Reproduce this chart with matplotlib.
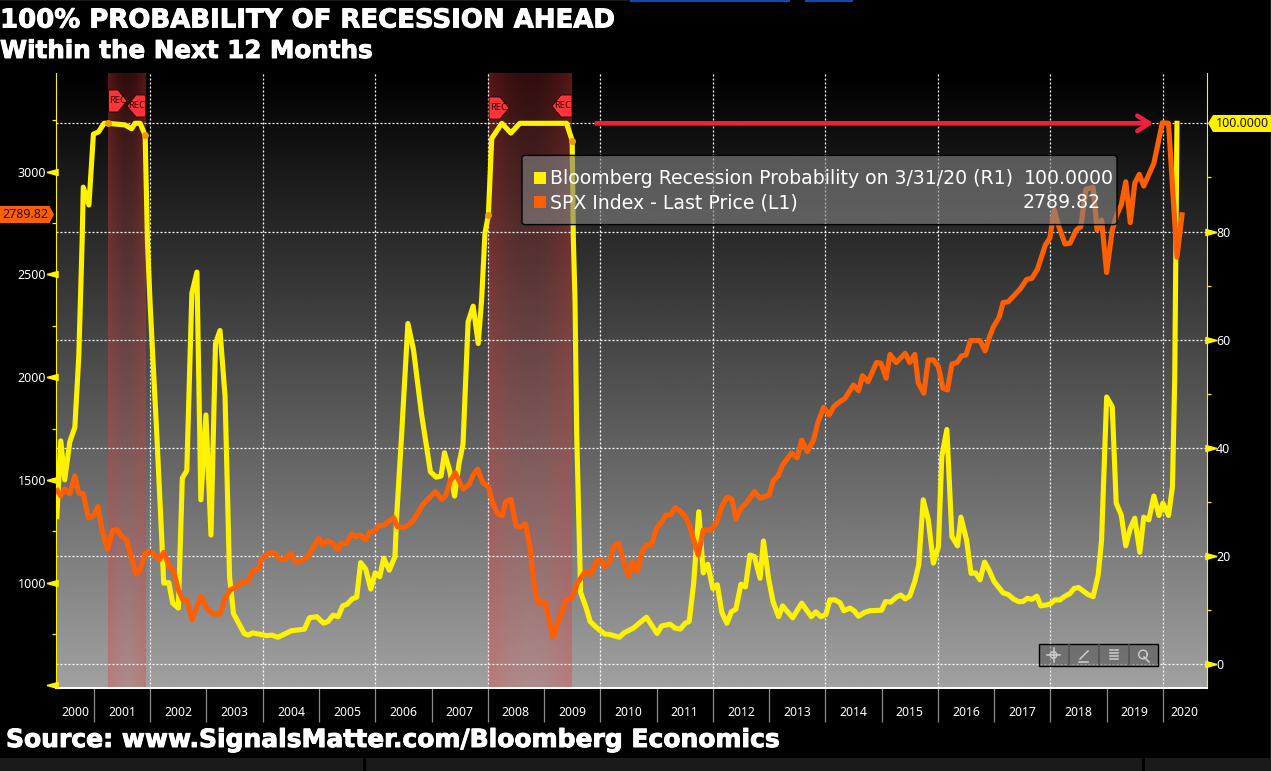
import numpy as np
import matplotlib
matplotlib.use('Agg')
import matplotlib.pyplot as plt
import matplotlib.patheffects as pe
from matplotlib.patches import Polygon, Rectangle, FancyBboxPatch
from matplotlib.lines import Line2D
from matplotlib.path import Path
from matplotlib.transforms import blended_transform_factory

W, H = 1271, 771

# Bloomberg recession probability (right axis)
prob_years = [2000.34, 2000.41, 2000.48, 2000.57, 2000.66, 2000.73, 2000.79, 2000.81, 2000.91, 2000.99,
              2001.08, 2001.18, 2001.25, 2001.55, 2001.67, 2001.73, 2001.82, 2001.91, 2001.95, 2002.00,
              2002.11, 2002.20, 2002.24, 2002.33, 2002.40, 2002.50, 2002.57, 2002.65, 2002.74, 2002.83,
              2002.90, 2002.99, 2003.08, 2003.16, 2003.24, 2003.33, 2003.41, 2003.48, 2003.67, 2003.74,
              2003.82, 2004.07, 2004.16, 2004.27, 2004.51, 2004.74, 2004.83, 2004.96, 2005.08, 2005.16,
              2005.25, 2005.34, 2005.42, 2005.50, 2005.59, 2005.67, 2005.74, 2005.83, 2005.92, 2006.00,
              2006.08, 2006.15, 2006.25, 2006.35, 2006.38, 2006.47, 2006.58, 2006.68, 2006.82, 2006.98,
              2007.08, 2007.17, 2007.23, 2007.32, 2007.41, 2007.49, 2007.56, 2007.65, 2007.74, 2007.83,
              2007.89, 2007.95, 2008.01, 2008.07, 2008.25, 2008.41, 2008.57, 2009.40, 2009.50, 2009.52,
              2009.55, 2009.58, 2009.65, 2009.75, 2009.82, 2009.91, 2009.99, 2010.08, 2010.17, 2010.34,
              2010.42, 2010.59, 2010.82, 2011.01, 2011.09, 2011.24, 2011.33, 2011.42, 2011.51, 2011.58,
              2011.66, 2011.75, 2011.83, 2011.91, 2012.00, 2012.08, 2012.16, 2012.25, 2012.33, 2012.41,
              2012.50, 2012.58, 2012.66, 2012.74, 2012.84, 2012.90, 2012.99, 2013.07, 2013.17, 2013.24,
              2013.42, 2013.58, 2013.75, 2013.83, 2013.92, 2014.01, 2014.08, 2014.17, 2014.26, 2014.33,
              2014.44, 2014.51, 2014.59, 2014.70, 2014.79, 2015.00, 2015.07, 2015.16, 2015.26, 2015.34,
              2015.42, 2015.50, 2015.59, 2015.66, 2015.74, 2015.83, 2015.92, 2016.01, 2016.07, 2016.16,
              2016.25, 2016.35, 2016.41, 2016.51, 2016.59, 2016.67, 2016.75, 2016.83, 2016.91, 2017.00,
              2017.16, 2017.25, 2017.34, 2017.43, 2017.51, 2017.59, 2017.67, 2017.76, 2017.83, 2017.99,
              2018.08, 2018.17, 2018.26, 2018.35, 2018.42, 2018.50, 2018.67, 2018.76, 2018.85, 2018.91,
              2019.00, 2019.10, 2019.17, 2019.26, 2019.34, 2019.42, 2019.50, 2019.59, 2019.66, 2019.75,
              2019.84, 2019.93, 2020.00, 2020.10, 2020.17, 2020.21, 2020.25]
prob_values = [27.3, 41.3, 34.1, 41.1, 43.8, 56.9, 78.4, 88.2, 84.9, 98.0,
               98.4, 100, 100, 99.7, 99.0, 100, 100, 97.8, 78.4, 66.1,
               43.9, 24.3, 15.0, 15.1, 11.3, 10.4, 34.4, 35.8, 68.6, 72.5,
               30.4, 46.1, 23.9, 59.3, 61.7, 49.5, 16.2, 9.4, 5.7, 5.4,
               5.8, 5.3, 5.4, 5.0, 6.2, 6.5, 8.6, 8.8, 7.6, 7.9,
               9.1, 8.8, 10.8, 11.1, 12.1, 12.4, 18.8, 17.6, 13.9, 16.9,
               16.2, 19.6, 17.4, 19.9, 27.3, 42.7, 63.0, 58.1, 46.4, 35.6,
               34.6, 34.8, 39.1, 35.9, 31.1, 37.2, 40.7, 63.3, 66.2, 59.3,
               67.3, 79.7, 83.0, 97.2, 100, 98.2, 100, 100, 96.8, 79.0,
               67.3, 42.7, 13.3, 10.4, 7.9, 7.0, 6.3, 5.6, 5.5, 5.0,
               5.8, 6.7, 8.7, 5.7, 7.1, 7.4, 6.7, 6.5, 7.6, 7.9,
               15.0, 28.2, 16.9, 18.5, 14.0, 14.7, 9.6, 7.6, 9.7, 10.2,
               14.8, 14.3, 20.2, 19.9, 15.9, 22.8, 15.9, 11.6, 8.8, 10.8,
               8.6, 11.3, 8.8, 9.7, 8.8, 9.2, 11.9, 11.9, 11.4, 9.9,
               10.4, 9.9, 8.9, 9.6, 9.9, 10.0, 11.6, 11.5, 12.4, 12.8,
               12.1, 12.6, 15.3, 18.4, 30.4, 26.7, 18.7, 21.7, 38.4, 43.4,
               23.6, 21.9, 27.2, 23.0, 16.8, 16.9, 15.6, 18.9, 17.4, 15.3,
               13.2, 12.9, 12.1, 11.6, 11.6, 12.2, 12.0, 12.6, 10.8, 11.1,
               11.9, 11.9, 12.6, 13.1, 14.0, 14.2, 12.9, 12.5, 16.5, 23.0,
               49.4, 47.6, 29.8, 27.6, 21.9, 25.1, 27.0, 20.7, 27.2, 26.7,
               31.1, 27.5, 29.8, 27.5, 32.8, 52.6, 100]

# SPX last price (left axis)
spx_years = [2000.35, 2000.41, 2000.48, 2000.57, 2000.66, 2000.73, 2000.81, 2000.90, 2000.99, 2001.07,
             2001.15, 2001.24, 2001.33, 2001.41, 2001.49, 2001.58, 2001.67, 2001.75, 2001.83, 2001.91,
             2002.00, 2002.08, 2002.16, 2002.24, 2002.34, 2002.41, 2002.50, 2002.58, 2002.65, 2002.74,
             2002.90, 2003.00, 2003.12, 2003.24, 2003.33, 2003.42, 2003.54, 2003.64, 2003.73, 2003.81,
             2003.92, 2003.99, 2004.13, 2004.20, 2004.32, 2004.39, 2004.50, 2004.57, 2004.66, 2004.81,
             2004.99, 2005.07, 2005.15, 2005.24, 2005.34, 2005.40, 2005.49, 2005.58, 2005.66, 2005.74,
             2005.83, 2005.91, 2005.99, 2006.07, 2006.15, 2006.33, 2006.39, 2006.50, 2006.59, 2006.68,
             2006.84, 2006.98, 2007.07, 2007.18, 2007.25, 2007.33, 2007.42, 2007.56, 2007.67, 2007.74,
             2007.82, 2007.91, 2008.01, 2008.09, 2008.17, 2008.26, 2008.32, 2008.41, 2008.50, 2008.57,
             2008.67, 2008.75, 2008.83, 2008.90, 2009.00, 2009.08, 2009.16, 2009.25, 2009.39, 2009.49,
             2009.59, 2009.73, 2009.83, 2009.92, 2009.99, 2010.08, 2010.17, 2010.23, 2010.33, 2010.42,
             2010.50, 2010.58, 2010.66, 2010.74, 2010.82, 2010.91, 2011.00, 2011.09, 2011.17, 2011.25,
             2011.33, 2011.42, 2011.51, 2011.58, 2011.74, 2011.83, 2011.98, 2012.07, 2012.16, 2012.25,
             2012.34, 2012.41, 2012.50, 2012.59, 2012.74, 2012.84, 2013.00, 2013.08, 2013.16, 2013.24,
             2013.40, 2013.50, 2013.58, 2013.68, 2013.79, 2013.87, 2013.97, 2014.07, 2014.15, 2014.26,
             2014.35, 2014.50, 2014.59, 2014.66, 2014.76, 2014.91, 2014.99, 2015.08, 2015.15, 2015.26,
             2015.42, 2015.50, 2015.59, 2015.65, 2015.75, 2015.83, 2015.92, 2016.01, 2016.09, 2016.17,
             2016.25, 2016.34, 2016.42, 2016.50, 2016.58, 2016.75, 2016.84, 2016.93, 2016.99, 2017.09,
             2017.16, 2017.25, 2017.46, 2017.58, 2017.67, 2017.77, 2017.91, 2017.99, 2018.07, 2018.14,
             2018.26, 2018.35, 2018.46, 2018.54, 2018.63, 2018.76, 2018.83, 2018.91, 2019.00, 2019.10,
             2019.18, 2019.26, 2019.34, 2019.42, 2019.50, 2019.58, 2019.66, 2019.84, 2019.99, 2020.10,
             2020.25, 2020.34]
spx_values = [1448, 1422, 1455, 1432, 1519, 1435, 1432, 1316, 1325, 1370,
              1248, 1163, 1253, 1257, 1227, 1208, 1119, 1042, 1070, 1143,
              1151, 1135, 1111, 1148, 1078, 1062, 965, 916, 916, 819,
              935, 876, 848, 848, 924, 965, 981, 1005, 1002, 1054,
              1067, 1119, 1146, 1143, 1114, 1114, 1143, 1102, 1102, 1130,
              1216, 1184, 1204, 1192, 1159, 1192, 1192, 1237, 1224, 1232,
              1208, 1248, 1252, 1279, 1279, 1316, 1273, 1268, 1281, 1305,
              1378, 1419, 1443, 1406, 1423, 1492, 1535, 1456, 1479, 1524,
              1553, 1487, 1467, 1386, 1338, 1326, 1394, 1406, 1277, 1270,
              1286, 1175, 973, 900, 908, 835, 734, 810, 917, 922,
              997, 1054, 1039, 1099, 1115, 1078, 1102, 1175, 1192, 1094,
              1033, 1102, 1054, 1151, 1184, 1184, 1265, 1297, 1330, 1330,
              1365, 1349, 1321, 1281, 1135, 1257, 1257, 1297, 1370, 1416,
              1406, 1310, 1362, 1386, 1443, 1411, 1427, 1500, 1519, 1573,
              1630, 1608, 1694, 1638, 1694, 1782, 1853, 1816, 1857, 1881,
              1897, 1962, 1934, 2007, 1978, 2071, 2068, 1995, 2111, 2071,
              2116, 2071, 2111, 1973, 1922, 2084, 2084, 2051, 1946, 1938,
              2064, 2071, 2103, 2108, 2178, 2178, 2128, 2205, 2246, 2292,
              2363, 2367, 2428, 2476, 2481, 2525, 2643, 2677, 2814, 2741,
              2648, 2652, 2716, 2732, 2914, 2924, 2716, 2765, 2509, 2716,
              2789, 2838, 2951, 2752, 2944, 2987, 2930, 3041, 3238, 3235,
              2584, 2789.82]

recession_starts = [2001.25, 2008.01]
recession_ends = [2001.92, 2009.50]
rec_point_years = [2001.25, 2001.91, 2008.01, 2009.50]
rec_point_probs = [100, 97.8, 83.0, 96.8]

year_ticks = list(range(2001, 2021))
year_labels = [str(y) for y in range(2000, 2021)]
spx_major = [500, 1000, 1500, 2000, 2500, 3000]
spx_labels = ['', '1000', '1500', '2000', '2500', '3000']
spx_minor = [750, 1250, 1750, 2250, 2750, 3250]
prob_major = [0, 20, 40, 60, 80]
prob_minor = [10, 30, 50, 70, 90]
prob_grid = [0, 20, 40, 60, 80, 100]
grid_years = list(range(2002, 2021, 2))

legend_prob = 'Bloomberg Recession Probability on 3/31/20 (R1)'
legend_spx = 'SPX Index - Last Price (L1)'
last_prob = '100.0000'
last_spx = '2789.82'

YELLOW = '#fff200'
ORANGE = '#ff5f00'
XMIN, XMAX = 2000.325, 2020.775
TICK_FONT = 'Noto Sans'

fig = plt.figure(figsize=(W / 100, H / 100), dpi=100, facecolor='black')


def fx(x):
    return x / W


def fy(y):
    return 1 - y / H


def pts(seq):
    return [(fx(x), fy(y)) for x, y in seq]


ax_spx = fig.add_axes([fx(56), fy(688), (1206.5 - 56) / W, (688 - 73) / H])
ax_prob = ax_spx.twinx()
ax_spx.set_zorder(ax_prob.get_zorder() + 1)
ax_spx.patch.set_visible(False)

# background gradient and recession bands
grad = np.linspace(0, 0.63, 256).reshape(-1, 1)
ax_prob.imshow(grad, extent=[0, 1, 0, 1], transform=ax_prob.transAxes, aspect='auto',
               cmap='gray', vmin=0, vmax=1, zorder=0)

for start, end in zip(recession_starts, recession_ends):
    t = np.linspace(0, 1, 40)
    rgba = np.zeros((1, 40, 4))
    rgba[..., 0] = 228 / 255
    rgba[..., 1] = 60 / 255
    rgba[..., 2] = 60 / 255
    rgba[..., 3] = 0.38 - 0.16 * np.sin(np.pi * t)
    ax_prob.imshow(rgba, extent=[start, end, -4.38, 109.3], aspect='auto', zorder=1)
ax_prob.set_xlim(XMIN, XMAX)
ax_prob.set_ylim(-4.38, 109.3)
ax_spx.set_xlim(XMIN, XMAX)
ax_spx.set_ylim(487.7, 3480)

# grid
for v in prob_grid:
    ax_prob.axhline(v, color='white', lw=0.9, ls=(0, (1.6, 1.6)), zorder=2)
for y in grid_years:
    ax_prob.axvline(y, color='white', lw=0.9, ls=(0, (1.6, 1.6)), zorder=2)

ax_prob.plot(prob_years, prob_values, color=YELLOW, lw=3.7, zorder=3, solid_joinstyle='round')
ax_prob.plot(rec_point_years, rec_point_probs, ls='', marker='o', ms=4, color='#e89a00', zorder=4)
ax_spx.plot(spx_years, spx_values, color=ORANGE, lw=3.7, zorder=3, solid_joinstyle='round')

ax_prob.annotate('', xy=(2019.83, 100), xytext=(2009.93, 100),
                 arrowprops=dict(arrowstyle='->,head_length=0.85,head_width=0.55', color='#f0203c',
                                 lw=3.3, shrinkA=0, shrinkB=0), zorder=5)

# axes dressing
ax_spx.spines['top'].set_visible(False)
ax_prob.spines['top'].set_visible(False)
ax_spx.spines['left'].set_color(YELLOW)
ax_spx.spines['right'].set_visible(False)
ax_spx.spines['bottom'].set_color('white')
ax_spx.spines['bottom'].set_linewidth(1.4)
ax_prob.spines['right'].set_color(YELLOW)
ax_prob.spines['left'].set_visible(False)
ax_prob.spines['bottom'].set_visible(False)

ax_spx.set_xticks(year_ticks)
ax_spx.set_xticklabels([])
ax_spx.tick_params(axis='x', which='major', length=24.5, width=0.9, color='#8a8a8a')
mids = [(XMIN + 2001) / 2] + [y + 0.5 for y in range(2001, 2020)] + [(2020 + XMAX) / 2]
ax_spx.set_xticks(mids, minor=True)
ax_spx.set_xticklabels(year_labels, minor=True, fontsize=8.8, color='white', family=TICK_FONT)
ax_spx.tick_params(axis='x', which='minor', length=0, pad=13)

ax_spx.set_yticks(spx_major)
ax_spx.set_yticklabels(spx_labels, fontsize=9, color='white', family=TICK_FONT)
ax_spx.set_yticks(spx_minor, minor=True)
ax_spx.tick_params(axis='y', which='major', length=0, pad=7)
ax_spx.tick_params(axis='y', which='minor', length=3, width=0.9, color=YELLOW)

ax_prob.set_yticks(prob_major)
ax_prob.set_yticklabels([str(v) for v in prob_major], fontsize=9, color='white', family=TICK_FONT)
ax_prob.set_yticks(prob_minor, minor=True)
ax_prob.tick_params(axis='y', which='major', length=0, pad=7)
ax_prob.tick_params(axis='y', which='minor', length=3, width=0.9, color=YELLOW)

# little triangle markers on the axis
left_mark = Path([(-1, 0), (1, 0.55), (1, -0.55), (-1, 0)])
right_mark = Path([(1, 0), (-1, 0.55), (-1, -0.55), (1, 0)])
tr_l = blended_transform_factory(ax_spx.transAxes, ax_spx.transData)
tr_r = blended_transform_factory(ax_prob.transAxes, ax_prob.transData)
ax_spx.plot([-0.0035] * len(spx_major), spx_major, ls='', marker=left_mark, ms=8, color=YELLOW,
            transform=tr_l, clip_on=False, zorder=6)
ax_prob.plot([1.0035] * len(prob_major), prob_major, ls='', marker=right_mark, ms=8, color=YELLOW,
             transform=tr_r, clip_on=False, zorder=6)

# REC tags
rec_tags = [(108.5, 90, 1, 127), (145.5, 95, -1, 127), (489, 97, 1, 509), (572, 95, -1, 552)]
for x0, top, d, tip in rec_tags:
    body = tip - d * 9
    shape = [(x0, top), (body, top), (tip, top + 11), (body, top + 22), (x0, top + 22)]
    fig.add_artist(Polygon(pts(shape), closed=True, transform=fig.transFigure, facecolor='#ff3338',
                           edgecolor='#220000', lw=0.6, zorder=4))
    fig.text(fx((x0 + tip) / 2 - d * 0.5), fy(top + 10.5), 'REC', fontsize=6.8, color='#300000',
             family=TICK_FONT, ha='center', va='center', zorder=5)

# legend box
box = FancyBboxPatch((fx(523), fy(224)), (1116 - 523) / W, (224 - 156) / H,
                     boxstyle='round,pad=0.0008,rounding_size=0.003', transform=fig.transFigure,
                     facecolor=(130 / 255, 130 / 255, 130 / 255, 0.62), edgecolor='black', lw=1, zorder=6)
fig.add_artist(box)
fig.add_artist(Rectangle((fx(534), fy(184)), 12 / W, 12 / H, transform=fig.transFigure,
                         facecolor=YELLOW, edgecolor='none', zorder=7))
fig.add_artist(Rectangle((fx(534), fy(208)), 12 / W, 12 / H, transform=fig.transFigure,
                         facecolor=ORANGE, edgecolor='none', zorder=7))
fig.text(fx(550), fy(178.5), legend_prob, fontsize=13.6, color='white', va='center', zorder=8)
fig.text(fx(550), fy(203), legend_spx, fontsize=13.6, color='white', va='center', zorder=8)
fig.text(fx(1024), fy(178.5), last_prob, fontsize=13.6, color='white', va='center', zorder=8)
fig.text(fx(1023), fy(203), last_spx, fontsize=13.6, color='white', va='center', zorder=8)

# last value tags
fig.add_artist(Polygon(pts([(0, 206), (49.5, 206), (54, 214.5), (49.5, 223), (0, 223)]), closed=True,
                       transform=fig.transFigure, facecolor=ORANGE, edgecolor='none', zorder=6))
fig.text(fx(2), fy(214.5), last_spx, fontsize=9, color='#221000', family=TICK_FONT, va='center', zorder=7)
fig.add_artist(Polygon(pts([(1271, 115), (1213, 115), (1208, 123.3), (1213, 132), (1271, 132)]), closed=True,
                       transform=fig.transFigure, facecolor=YELLOW, edgecolor='none', zorder=6))
fig.text(fx(1216), fy(123.5), last_prob, fontsize=9, color='#221000', family=TICK_FONT, va='center', zorder=7)

# toolbar in the corner of the plot
fig.add_artist(Rectangle((fx(1039), fy(666)), 119 / W, 22 / H, transform=fig.transFigure,
                         facecolor=(0.25, 0.25, 0.25, 0.45), edgecolor='black', lw=1, zorder=6))
icon = '#cfcfcf'
for x in [1068.5, 1098.5, 1128.5]:
    fig.add_artist(Line2D([fx(x), fx(x)], [fy(645), fy(665)], color='#555555', lw=1.2, zorder=7))
segs = [((1047, 655), (1060, 655)), ((1053.5, 648), (1053.5, 662)),
        ((1080, 659), (1088, 651)), ((1079, 661.5), (1088, 661.5)),
        ((1109.5, 650), (1113, 650)), ((1115, 650), (1118, 650)), ((1109.5, 653), (1118, 653)),
        ((1109.5, 656), (1118, 656)), ((1109.5, 659), (1118, 659)),
        ((1144, 657), (1149, 662))]
for a, b in segs:
    fig.add_artist(Line2D([fx(a[0]), fx(b[0])], [fy(a[1]), fy(b[1])], color=icon, lw=1.1, zorder=7))
for cx, cy, r in [(1053.5, 655, 3.2), (1143, 654.5, 4.3)]:
    ring = Line2D(cx / W + r / W * np.cos(np.linspace(0, 6.3, 30)),
                  1 - cy / H + r / H * np.sin(np.linspace(0, 6.3, 30)), color=icon, lw=1, zorder=7)
    fig.add_artist(ring)

# titles
heavy = [pe.withStroke(linewidth=0.7, foreground='white')]
fig.text(fx(0), fy(20.5), '100% PROBABILITY OF RECESSION AHEAD', fontsize=18.7, fontweight='bold',
         color='white', va='center', zorder=8, path_effects=heavy)
fig.text(fx(0), fy(51), 'Within the Next 12 Months', fontsize=17.7, fontweight='bold',
         color='white', va='center', zorder=8, path_effects=heavy)
fig.text(fx(6), fy(740), 'Source: www.SignalsMatter.com/Bloomberg Economics', fontsize=18, fontweight='bold',
         color='white', va='center', zorder=8, path_effects=heavy)

# window chrome along the edges
fig.add_artist(Rectangle((0, 0), 1, 13 / H, transform=fig.transFigure, facecolor='#1a1a1a',
                         edgecolor='none', zorder=1))
fig.add_artist(Rectangle((fx(1270), 0), 1 / W, 1, transform=fig.transFigure, facecolor='#1a1a1a',
                         edgecolor='none', zorder=1))
fig.add_artist(Rectangle((0, fy(1)), 630 / W, 1 / H, transform=fig.transFigure, facecolor='#1a1a1a',
                         edgecolor='none', zorder=1))
for x in [363, 1142]:
    fig.add_artist(Rectangle((fx(x), 0), 2.5 / W, 13 / H, transform=fig.transFigure, facecolor='black',
                             edgecolor='none', zorder=2))
for x0, x1 in [(630, 790), (805, 853)]:
    fig.add_artist(Rectangle((fx(x0), fy(1.5)), (x1 - x0) / W, 1.5 / H, transform=fig.transFigure,
                             facecolor='#0a4fb0', edgecolor='none', zorder=2))

fig.savefig('out.png', dpi=100, facecolor='black')
